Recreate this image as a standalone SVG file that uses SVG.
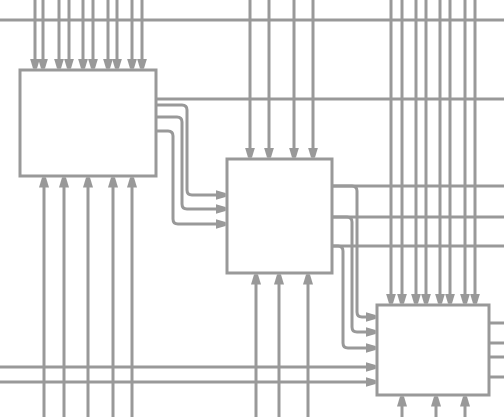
<svg xmlns="http://www.w3.org/2000/svg" width="504" height="417" viewBox="0 0 504 417">
<defs>
<style>
.box{fill:#ffffff;stroke:#999999;stroke-width:3}
.ln{fill:none;stroke:#999999;stroke-width:3}
.ar{marker-end:url(#arr)}
</style>
<marker id="arr" markerUnits="userSpaceOnUse" markerWidth="12" markerHeight="12" viewBox="0 -6 12 12" refX="10" refY="0" orient="auto">
<path d="M0,-5 L10,-2 L10,2 L0,5 Z" fill="#999999"/>
</marker>
</defs>
<rect width="504" height="417" fill="#ffffff"/>
<g id="connectors">
<path class="ln" d="M0,20 H504"/>
<path class="ln" d="M156,99 H504"/>
<path class="ln" d="M332,186 H504"/>
<path class="ln" d="M332,217 H504"/>
<path class="ln" d="M332,246 H504"/>
<path class="ln" d="M489,323 H504 M489,343 H504 M489,357 H504 M489,377 H504"/>
<!-- box1 top inputs -->
<path class="ln ar" d="M35,0 V68.5"/>
<path class="ln ar" d="M43,0 V68.5"/>
<path class="ln ar" d="M59,0 V68.5"/>
<path class="ln ar" d="M69,0 V68.5"/>
<path class="ln ar" d="M83,0 V68.5"/>
<path class="ln ar" d="M93,0 V68.5"/>
<path class="ln ar" d="M108,0 V68.5"/>
<path class="ln ar" d="M117,0 V68.5"/>
<path class="ln ar" d="M132,0 V68.5"/>
<path class="ln ar" d="M142,0 V68.5"/>
<!-- box1 bottom inputs -->
<path class="ln ar" d="M44,417 V177.5"/>
<path class="ln ar" d="M64,417 V177.5"/>
<path class="ln ar" d="M88,417 V177.5"/>
<path class="ln ar" d="M113,417 V177.5"/>
<path class="ln ar" d="M132,417 V177.5"/>
<!-- box1 to box2 -->
<path class="ln ar" d="M156,105 H182 Q187,105 187,110 V190 Q187,195 192,195 H225.5"/>
<path class="ln ar" d="M156,117 H177 Q182,117 182,122 V204 Q182,209 187,209 H225.5"/>
<path class="ln ar" d="M156,131 H168 Q173,131 173,136 V219 Q173,224 178,224 H225.5"/>
<!-- box2 top inputs -->
<path class="ln ar" d="M250,0 V157.5"/>
<path class="ln ar" d="M269,0 V157.5"/>
<path class="ln ar" d="M294,0 V157.5"/>
<path class="ln ar" d="M313,0 V157.5"/>
<!-- box2 bottom inputs -->
<path class="ln ar" d="M256,417 V274.5"/>
<path class="ln ar" d="M279,417 V274.5"/>
<path class="ln ar" d="M308,417 V274.5"/>
<!-- box2 to box3 -->
<path class="ln ar" d="M332,186 H352 Q357,186 357,191 V312 Q357,317 362,317 H375.5"/>
<path class="ln ar" d="M332,217 H347 Q352,217 352,222 V327 Q352,332 357,332 H375.5"/>
<path class="ln ar" d="M332,246 H338 Q343,246 343,251 V343 Q343,348 348,348 H375.5"/>
<!-- left inputs box3 -->
<path class="ln ar" d="M0,367 H375.5"/>
<path class="ln ar" d="M0,382 H375.5"/>
<!-- box3 top inputs -->
<path class="ln ar" d="M391,0 V303.5"/>
<path class="ln ar" d="M402,0 V303.5"/>
<path class="ln ar" d="M416,0 V303.5"/>
<path class="ln ar" d="M426,0 V303.5"/>
<path class="ln ar" d="M440,0 V303.5"/>
<path class="ln ar" d="M450,0 V303.5"/>
<path class="ln ar" d="M465,0 V303.5"/>
<path class="ln ar" d="M475,0 V303.5"/>
<!-- box3 bottom inputs -->
<path class="ln ar" d="M402,417 V396.5"/>
<path class="ln ar" d="M436,417 V396.5"/>
<path class="ln ar" d="M465,417 V396.5"/>
</g>
<g id="box1"><rect class="box" x="20" y="70" width="136" height="106"/></g>
<g id="box2"><rect class="box" x="227" y="159" width="105" height="114"/></g>
<g id="box3"><rect class="box" x="377" y="305" width="112" height="90"/></g>
</svg>
